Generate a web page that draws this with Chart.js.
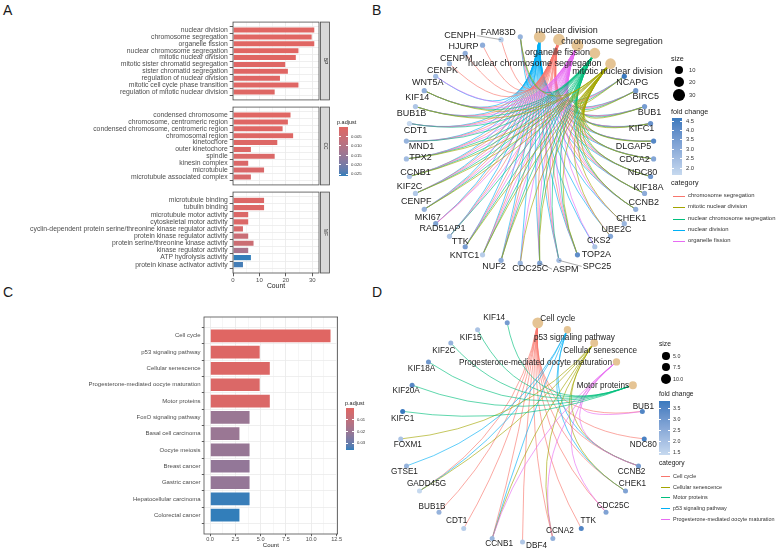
<!DOCTYPE html>
<html><head><meta charset="utf-8"><title>GO / KEGG enrichment</title>
<script src="https://cdn.jsdelivr.net/npm/chart.js@4.4.1/dist/chart.umd.min.js"></script>
<style>
html,body{margin:0;padding:0;background:#fff;}
#fig{position:relative;width:784px;height:557px;overflow:hidden;background:#fff;font-family:"Liberation Sans",Arial,Helvetica,sans-serif;}
#fig canvas{position:absolute;}
.tx{position:absolute;white-space:nowrap;}
</style></head><body><div id="fig"></div>
<script>
// ================= DATA =================
// Panel A (GO)
const bpTerms = ['nuclear division','chromosome segregation','organelle fission','nuclear chromosome segregation','mitotic nuclear division','mitotic sister chromatid segregation','sister chromatid segregation','regulation of nuclear division','mitotic cell cycle phase transition','regulation of mitotic nuclear division'];
const bpCount = [31,30,31,25,24,20,21,18,25,16];
const bpPadj  = [0.0001,0.0001,0.0001,0.0001,0.0002,0.0003,0.0003,0.0004,0.0004,0.0005];
const ccTerms = ['condensed chromosome','chromosome, centromeric region','condensed chromosome, centromeric region','chromosomal region','kinetochore','outer kinetochore','spindle','kinesin complex','microtubule','microtubule associated complex'];
const ccCount = [22,21,19,23,17,7,16,6,12,7];
const ccPadj  = [0.0002,0.0003,0.0004,0.0005,0.0008,0.0010,0.0012,0.0015,0.0018,0.0020];
const mfTerms = ['microtubule binding','tubulin binding','microtubule motor activity','cytoskeletal motor activity','cyclin-dependent protein serine/threonine kinase regulator activity','protein kinase regulator activity','protein serine/threonine kinase activity','kinase regulator activity','ATP hydrolysis activity','protein kinase activator activity'];
const mfCount = [12,12,6,6,4,6,8,6,7,4];
const mfPadj  = [0.0010,0.0011,0.0012,0.0013,0.0022,0.0055,0.0050,0.0120,0.0261,0.0250];
const facetNamesA = ['BP','CC','MF'];
const xTicksA = [0,5,10,15,20,25,30];
const xMajorA = [0,10,20,30];
const padjTicksA = [0.005,0.010,0.015,0.020,0.025];

// Panel C (KEGG)
const keggTerms = ['Cell cycle','p53 signaling pathway','Cellular senescence','Progesterone-mediated oocyte maturation','Motor proteins','FoxO signaling pathway','Basal cell carcinoma','Oocyte meiosis','Breast cancer','Gastric cancer','Hepatocellular carcinoma','Colorectal cancer'];
const keggCount = [12,5,6,5,6,4,3,4,4,4,4,3];
const keggPadj  = [0.0003,0.0012,0.0015,0.0018,0.0020,0.0205,0.0205,0.0210,0.0220,0.0215,0.0355,0.0360];
const xTicksC = [0,1.25,2.5,3.75,5,6.25,7.5,8.75,10,11.25,12.5];
const xMajorC = [0,2.5,5,7.5,10,12.5];
const padjTicksC = [0.01,0.02,0.03];

// Panel B (GO network)
const catsB = ['nuclear division','chromosome segregation','organelle fission','nuclear chromosome segregation','mitotic nuclear division'];
const genesB = ['NCAPG','BIRC5','BUB1','KIFC1','DLGAP5','CDCA2','NDC80','KIF18A','CCNB2','CHEK1','UBE2C','CKS2','TOP2A','SPC25','ASPM','CDC25C','NUF2','KNTC1','TTK','RAD51AP1','MKI67','CENPF','KIF2C','CCNB1','TPX2','MND1','CDT1','BUB1B','KIF14','WNT5A','CENPK','CENPM','HJURP','CENPH','FAM83D'];
const fcB = [4.66,3.6,3.5,3.82,4.2,3.2,3.6,3.0,2.9,2.7,3.2,2.3,4.0,2.5,3.3,2.7,3.0,2.0,3.5,2.2,3.3,2.8,2.1,2.2,2.5,2.8,1.64,2.2,2.9,2.5,2.5,3.0,3.0,2.0,2.8];
const membersB = [
  ['NCAPG','BIRC5','BUB1','KIFC1','DLGAP5','CDCA2','NDC80','KIF18A','CCNB2','CHEK1','UBE2C','CKS2','TOP2A','SPC25','ASPM','CDC25C','NUF2','KNTC1','TTK','RAD51AP1','MKI67','CENPF','KIF2C','CCNB1','TPX2','MND1','CDT1','BUB1B','KIF14','WNT5A','FAM83D'],
  ['NCAPG','BIRC5','BUB1','KIFC1','DLGAP5','CDCA2','NDC80','KIF18A','CCNB2','TOP2A','SPC25','ASPM','NUF2','KNTC1','TTK','RAD51AP1','MKI67','CENPF','KIF2C','CCNB1','TPX2','MND1','CDT1','BUB1B','KIF14','CENPK','CENPM','HJURP','CENPH','FAM83D'],
  ['NCAPG','BIRC5','BUB1','KIFC1','DLGAP5','CDCA2','NDC80','KIF18A','CCNB2','CHEK1','UBE2C','CKS2','TOP2A','SPC25','ASPM','CDC25C','NUF2','KNTC1','TTK','RAD51AP1','MKI67','CENPF','KIF2C','CCNB1','TPX2','MND1','CDT1','BUB1B','KIF14','WNT5A','FAM83D'],
  ['NCAPG','BIRC5','BUB1','KIFC1','DLGAP5','CDCA2','NDC80','KIF18A','CCNB2','TOP2A','SPC25','ASPM','NUF2','KNTC1','TTK','RAD51AP1','CENPF','KIF2C','CCNB1','TPX2','MND1','CDT1','BUB1B','KIF14','FAM83D'],
  ['NCAPG','BIRC5','BUB1','KIFC1','DLGAP5','CDCA2','NDC80','KIF18A','CCNB2','CHEK1','UBE2C','TOP2A','ASPM','CDC25C','NUF2','KNTC1','TTK','CENPF','KIF2C','CCNB1','TPX2','BUB1B','KIF14','FAM83D']
];
const sizeLegendB = [10,20,30];
const fcTicksB = [2.0,2.5,3.0,3.5,4.0,4.5];

// Panel D (KEGG network)
const catsD = ['Cell cycle','p53 signaling pathway','Cellular senescence','Progesterone-mediated oocyte maturation','Motor proteins'];
const genesD = ['BUB1','NDC80','CCNB2','CHEK1','CDC25C','TTK','CCNA2','DBF4','CCNB1','CDT1','BUB1B','GADD45G','GTSE1','FOXM1','KIFC1','KIF20A','KIF18A','KIF2C','KIF15','KIF14'];
const fcD = [3.5,3.6,2.9,2.7,2.7,3.5,2.4,1.8,2.2,1.64,2.3,1.36,2.3,1.9,3.82,3.4,3.0,2.3,1.9,2.9];
const membersD = [
  ['BUB1','NDC80','CCNB2','CHEK1','CDC25C','TTK','CCNA2','DBF4','CCNB1','CDT1','BUB1B','GADD45G'],
  ['CCNB2','CHEK1','CCNB1','GADD45G','GTSE1'],
  ['CCNB2','CHEK1','CCNA2','CCNB1','GADD45G','FOXM1'],
  ['BUB1','CCNB2','CDC25C','CCNA2','CCNB1'],
  ['KIFC1','KIF20A','KIF18A','KIF2C','KIF15','KIF14']
];
const sizeLegendD = [5.0,7.5,10.0];
const fcTicksD = [1.5,2.0,2.5,3.0,3.5];

// ================= STYLE / LAYOUT =================
const FONT = '"Liberation Sans", Arial, Helvetica, sans-serif';
const P_LOW = '#e06663', P_HIGH = '#327eba';
const FC_LOW = '#C6D9EF', FC_HIGH = '#3979BE';
const CAT_NODE = '#E5C494';
const HUE5 = ['#F8766D','#A3A500','#00BF7D','#00B0F6','#E76BF3'];
// label nudges (px) for repelled node labels: categories first, then genes
const nudgeB = [[27,-6],[53,2],[-20,7],[-60,10],[7,8],
  [8,6],[10,6],[5,6],[-9,5],[-20,5],[-19,1],[-8,-4],[4,-6],[8,-7],[7,-5],[6,-7],[4,-6],[19,0],[38,6],[26,6],[10,5],[-7,6],[-18,1],[-5,-5],[-7,-8],[-8,-6],[-8,-8],[-6,-7],[6,-4],[14,-1],[15,5],[6,7],[-4,7],[-7,7],[-8,6],[-7,7],[-9,5],[-19,1],[-41,-4],[-22,-4]];
const nudgeD = [[20,-4],[7,8],[6,8],[-81,1],[-30,1],
  [1,-5],[-1,6],[-7,6],[7,-7],[7,-6],[7,-8],[7,-8],[14,4],[7,5],[-7,-8],[-7,-5],[7,-7],[-2,6],[7,6],[0,7],[-6,6],[-7,7],[-7,8],[-7,8],[-13,-5]];

// ================= COLOR UTILS (Lab interpolation like ggplot) =================
function hex2rgb(h){h=h.replace('#','');return [0,2,4].map(i=>parseInt(h.substr(i,2),16));}
function s2l(c){c/=255;return c<=0.04045?c/12.92:Math.pow((c+0.055)/1.055,2.4);}
function l2s(c){c=c<=0.0031308?12.92*c:1.055*Math.pow(c,1/2.4)-0.055;return Math.round(Math.max(0,Math.min(1,c))*255);}
function rgb2lab(rgb){const [r,g,b]=rgb.map(s2l);const X=(0.4124*r+0.3576*g+0.1805*b)/0.95047,Y=0.2126*r+0.7152*g+0.0722*b,Z=(0.0193*r+0.1192*g+0.9505*b)/1.08883;const f=t=>t>0.008856?Math.cbrt(t):7.787*t+16/116;const fx=f(X),fy=f(Y),fz=f(Z);return [116*fy-16,500*(fx-fy),200*(fy-fz)];}
function lab2rgb([L,a,b]){const fy=(L+16)/116,fx=fy+a/500,fz=fy-b/200;const fi=t=>t*t*t>0.008856?t*t*t:(t-16/116)/7.787;const X=fi(fx)*0.95047,Y=fi(fy),Z=fi(fz)*1.08883;return [3.2406*X-1.5372*Y-0.4986*Z,-0.9689*X+1.8758*Y+0.0415*Z,0.0557*X-0.2040*Y+1.0570*Z].map(l2s);}
function mix(h1,h2,t){t=Math.max(0,Math.min(1,t));const A=rgb2lab(hex2rgb(h1)),B=rgb2lab(hex2rgb(h2));const c=lab2rgb(A.map((v,i)=>v+(B[i]-v)*t));return 'rgb('+c.join(',')+')';}

// ================= HELPERS =================
const fig = document.getElementById('fig');
Chart.defaults.font.family = FONT;
function mkCanvas(l,t,w,h){const c=document.createElement('canvas');c.width=w;c.height=h;c.style.left=l+'px';c.style.top=t+'px';c.style.width=w+'px';c.style.height=h+'px';fig.appendChild(c);return c;}
function txt(s,x,cy,size,color,align){const d=document.createElement('div');d.className='tx';d.textContent=s;d.style.fontSize=size+'px';d.style.lineHeight=(size*1.2)+'px';d.style.top=(cy-size*0.6)+'px';d.style.color=color||'#1a1a1a';if(align==='center'){d.style.left=x+'px';d.style.transform='translateX(-50%)';}else{d.style.left=x+'px';}fig.appendChild(d);return d;}
function box(l,t,w,h,css){const d=document.createElement('div');d.style.cssText='position:absolute;left:'+l+'px;top:'+t+'px;width:'+w+'px;height:'+h+'px;'+(css||'');fig.appendChild(d);return d;}
function colorbar(l,t,w,h,cTop,cBot,tickYs){const stops=[];for(let i=0;i<=12;i++)stops.push(mix(cTop,cBot,i/12)+' '+(i*100/12).toFixed(2)+'%');box(l,t,w,h,'background:linear-gradient(to bottom,'+stops.join(',')+');');tickYs.forEach(y=>{box(l,y-0.4,w/5,0.8,'background:#fff;');box(l+w-w/5,y-0.4,w/5,0.8,'background:#fff;');});}

// ================= PANEL LETTERS =================
[['A',3,3],['B',372,3],['C',3,285],['D',372,285]].forEach(([s,x,y])=>{const d=document.createElement('div');d.className='tx';d.textContent=s;d.style.cssText+='left:'+x+'px;top:'+y+'px;font-size:14px;line-height:14px;color:#1a1a1a;';fig.appendChild(d);});

// ================= BAR CHARTS =================
const framePlugin = {id:'frame', afterDraw(chart,args,o){const a=chart.chartArea,ctx=chart.ctx;ctx.save();ctx.strokeStyle='#4d4d4d';ctx.lineWidth=0.8;ctx.strokeRect(a.left,a.top,a.right-a.left,a.bottom-a.top);
  if(o.strip){const x0=a.right+1.5,w=9;ctx.fillStyle='#d9d9d9';ctx.fillRect(x0,a.top,w,a.bottom-a.top);ctx.strokeRect(x0,a.top,w,a.bottom-a.top);ctx.translate(x0+w/2,(a.top+a.bottom)/2);ctx.rotate(Math.PI/2);ctx.fillStyle='#1a1a1a';ctx.font='4.8px '+FONT;ctx.textAlign='center';ctx.textBaseline='middle';ctx.fillText(o.strip,0,0);}
  ctx.restore();}};

function barChart(canvas,cfg){
  const isMajor = v => cfg.xMajor.some(m=>Math.abs(m-v)<1e-9);
  return new Chart(canvas,{
    type:'bar',
    data:{datasets:[{data:cfg.values.map((v,i)=>({x:v,y:i+1})),backgroundColor:cfg.colors,borderColor:'rgba(255,255,255,0.55)',borderWidth:cfg.barBorder,barPercentage:0.9,categoryPercentage:1}]},
    options:{indexAxis:'y',animation:false,responsive:false,events:[],
      layout:{padding:{top:cfg.padTop,right:cfg.padRight,bottom:cfg.padBottom,left:0}},
      plugins:{legend:{display:false},tooltip:{enabled:false},frame:{strip:cfg.strip}},
      scales:{
        y:{type:'linear',reverse:true,min:0.4,max:cfg.values.length+0.6,
          afterBuildTicks:s=>{s.ticks=cfg.labels.map((_,i)=>({value:i+1}));},
          afterFit:s=>{s.width=cfg.yWidth;},
          ticks:{autoSkip:false,padding:cfg.yPad,color:'#4d4d4d',font:{size:cfg.yFont},callback:v=>cfg.labels[Math.round(v)-1]},
          grid:{color:'#ebebeb',lineWidth:0.8,tickLength:cfg.tickLen,tickColor:'#333',tickWidth:0.8},
          border:{display:false}},
        x:{type:'linear',min:cfg.xMin,max:cfg.xMax,
          afterBuildTicks:s=>{s.ticks=cfg.xTicks.map(v=>({value:v}));},
          afterFit:s=>{s.height=cfg.axisH;},
          ticks:{display:cfg.showX,autoSkip:false,maxRotation:0,padding:cfg.xPad,color:'#4d4d4d',font:{size:cfg.xFont},callback:v=>isMajor(v)?cfg.xFmt(v):''},
          grid:{color:'#ebebeb',lineWidth:c=>(c.tick&&isMajor(c.tick.value))?0.9:0.45,drawTicks:cfg.showX,tickLength:cfg.tickLen,
                tickColor:c=>(c.tick&&isMajor(c.tick.value))?'#333':'rgba(0,0,0,0)',tickWidth:0.8},
          border:{display:false},
          title:{display:cfg.showX,text:'Count',color:'#1a1a1a',font:{size:cfg.titleFont},padding:{top:0,bottom:cfg.titlePadB}}}
      }},
    plugins:[framePlugin]});
}

// Panel A
const allPadjA = bpPadj.concat(ccPadj, mfPadj);
const pminA = Math.min(...allPadjA), pmaxA = Math.max(...allPadjA);
const colA = p => mix(P_LOW,P_HIGH,(p-pminA)/(pmaxA-pminA));
const xMaxA = Math.max(...bpCount,...ccCount,...mfCount)*1.05;
const facetA = [
  {terms:bpTerms,count:bpCount,padj:bpPadj,top:16,h:90,padTop:5,padBottom:4,axisH:0,showX:false},
  {terms:ccTerms,count:ccCount,padj:ccPadj,top:101,h:90,padTop:5,padBottom:3,axisH:0,showX:false},
  {terms:mfTerms,count:mfCount,padj:mfPadj,top:186,h:106,padTop:5,padBottom:0,axisH:19,showX:true}
];
facetA.forEach((f,k)=>{
  const c = mkCanvas(0,f.top,334,f.h);
  barChart(c,{labels:f.terms,values:f.count,colors:f.padj.map(colA),strip:facetNamesA[k],
    padTop:f.padTop,padBottom:f.padBottom,padRight:15,axisH:f.axisH,showX:f.showX,
    yWidth:233,yPad:2,yFont:6.8,tickLen:3.3,barBorder:0.6,
    xMin:0,xMax:xMaxA,xTicks:xTicksA,xMajor:xMajorA,xFmt:v=>String(v),xPad:0.5,xFont:6,titleFont:6.8,titlePadB:1.9});
});
// legend A
txt('p.adjust',337,122,5.5,'#1a1a1a');
(function(){const t=127,h=49;const ys=padjTicksA.map(v=>t+(v-pminA)/(pmaxA-pminA)*h);colorbar(339,t,9,h,P_LOW,P_HIGH,ys);padjTicksA.forEach((v,i)=>txt(v.toFixed(3),351,ys[i],4.3,'#333'));})();

// Panel C
const pminC = Math.min(...keggPadj), pmaxC = Math.max(...keggPadj);
const colC = p => mix(P_LOW,P_HIGH,(p-pminC)/(pmaxC-pminC));
const xMaxC = Math.max(...keggCount)*1.05, xMinC = -Math.max(...keggCount)*0.05;
barChart(mkCanvas(0,310,372,247),{labels:keggTerms,values:keggCount,colors:keggPadj.map(colC),strip:null,
  padTop:7,padBottom:0,padRight:34.4,axisH:23,showX:true,yWidth:204,yPad:1.2,yFont:6,tickLen:2.2,barBorder:1,
  xMin:xMinC,xMax:xMaxC,xTicks:xTicksC,xMajor:xMajorC,xFmt:v=>v.toFixed(1),xPad:0.3,xFont:5.6,titleFont:6,titlePadB:7.7});
txt('p.adjust',345,403,5.5,'#1a1a1a');
(function(){const t=408,h=42;const ys=padjTicksC.map(v=>t+(v-pminC)/(pmaxC-pminC)*h);colorbar(346,t,8,h,P_LOW,P_HIGH,ys);padjTicksC.forEach((v,i)=>txt(v.toFixed(2),357,ys[i],4.2,'#333'));})();

// ================= NETWORKS =================
const edgePlugin = {id:'edges', beforeDatasetsDraw(chart,args,o){const xs=chart.scales.x,ys=chart.scales.y,ctx=chart.ctx;ctx.save();ctx.lineWidth=o.width;ctx.globalAlpha=o.alpha;
  o.edges.forEach(e=>{const a=o.pts[e.from],b=o.pts[e.to];const mx=(a.x+b.x)/2*(1-o.strength),my=(a.y+b.y)/2*(1-o.strength);
    ctx.strokeStyle=e.color;ctx.beginPath();ctx.moveTo(xs.getPixelForValue(a.x),ys.getPixelForValue(a.y));
    ctx.quadraticCurveTo(xs.getPixelForValue(mx),ys.getPixelForValue(my),xs.getPixelForValue(b.x),ys.getPixelForValue(b.y));ctx.stroke();});
  ctx.restore();}};
const labelPlugin = {id:'nodelabels', afterDatasetsDraw(chart,args,o){const ctx=chart.ctx,xs=chart.scales.x,ys=chart.scales.y;ctx.save();ctx.font=o.size+'px '+FONT;ctx.textAlign='center';ctx.textBaseline='middle';
  o.names.forEach((n,i)=>{const px=xs.getPixelForValue(o.pts[i].x),py=ys.getPixelForValue(o.pts[i].y);const dx=o.nudge[i][0],dy=o.nudge[i][1];const lx=px+dx,ly=py+dy;const hw=ctx.measureText(n).width/2;
    if(Math.abs(dx)>hw+5){const ex=dx>0?lx-hw-1:lx+hw+1;ctx.strokeStyle='#555';ctx.lineWidth=0.5;ctx.beginPath();ctx.moveTo(px,py);ctx.lineTo(ex,ly);ctx.stroke();}
    ctx.fillStyle=o.color;ctx.fillText(n,lx,ly);});
  ctx.restore();}};

function lcSort(arr){return arr.slice().sort((a,b)=>{const A=a.toLowerCase(),B=b.toLowerCase();return A<B?-1:A>B?1:0;});}

function network(canvas,cfg){
  const names = cfg.cats.concat(cfg.genes);
  const N = names.length;
  const pts = names.map((n,i)=>{const ang=(i+0.5)*2*Math.PI/N;return {x:Math.sin(ang),y:Math.cos(ang)};});
  const sizes = cfg.members.map(m=>m.length);
  const fmin=Math.min(...cfg.fc), fmax=Math.max(...cfg.fc);
  const radii = names.map((n,i)=> i<cfg.cats.length ? cfg.rad(sizes[i]) : cfg.geneR);
  const colors = names.map((n,i)=> i<cfg.cats.length ? CAT_NODE : mix(FC_LOW,FC_HIGH,(cfg.fc[i-cfg.cats.length]-fmin)/(fmax-fmin)));
  const sorted = lcSort(cfg.cats);
  const edges=[];
  cfg.members.forEach((m,ci)=>{const col=HUE5[sorted.indexOf(cfg.cats[ci])];m.forEach(g=>edges.push({from:ci,to:cfg.cats.length+cfg.genes.indexOf(g),color:col}));});
  new Chart(canvas,{type:'scatter',
    data:{datasets:[{data:pts,pointRadius:radii,pointBackgroundColor:colors,pointBorderWidth:0,pointHoverRadius:radii,clip:false}]},
    options:{animation:false,responsive:false,events:[],layout:{padding:cfg.pad},
      plugins:{legend:{display:false},tooltip:{enabled:false},
        edges:{edges,pts,strength:0.9,width:0.7,alpha:0.9},
        nodelabels:{names,pts,nudge:cfg.nudge,size:cfg.labelSize,color:'#222'}},
      scales:{x:{type:'linear',min:-1,max:1,display:false},y:{type:'linear',min:-1,max:1,display:false}}},
    plugins:[edgePlugin,labelPlugin]});
  return {sorted,fmin,fmax};
}
function netLegend(L,info,cfg){
  txt('size',L.x,L.sizeTitleY,L.titleFont,'#1a1a1a');
  cfg.sizeLegend.forEach((s,i)=>{const r=cfg.rad(s);box(L.circX-r,L.sizeYs[i]-r,2*r,2*r,'background:#000;border-radius:50%;');txt(s.toFixed(L.sizeDec),L.labX,L.sizeYs[i],L.labFont,'#333');});
  txt('fold change',L.x,L.fcTitleY,L.titleFont,'#1a1a1a');
  const ys=cfg.fcTicks.map(v=>L.barT+(info.fmax-v)/(info.fmax-info.fmin)*L.barH);
  colorbar(L.barX,L.barT,L.barW,L.barH,FC_HIGH,FC_LOW,ys);
  cfg.fcTicks.forEach((v,i)=>txt(v.toFixed(1),L.barLabX,ys[i],L.labFont,'#333'));
  txt('category',L.x,L.catTitleY,L.titleFont,'#1a1a1a');
  info.sorted.forEach((c,i)=>{const y=L.catYs[i];box(L.lineX,y-0.5,L.lineW,1,'background:'+HUE5[i]+';');txt(c,L.catLabX,y,L.catFont,'#333');});
}

// Panel B
const radB = s => 1.31 + 0.82*Math.sqrt(s);
const cfgB = {cats:catsB,genes:genesB,fc:fcB,members:membersB,nudge:nudgeB,rad:radB,geneR:2.6,labelSize:9,
  pad:{left:34,right:28,top:18.5,bottom:16.5},sizeLegend:sizeLegendB,fcTicks:fcTicksB};
const infoB = network(mkCanvas(372,18,310,262),cfgB);
netLegend({x:671,sizeTitleY:59,titleFont:7.2,circX:679,sizeYs:[70,82,95],labX:689,labFont:5.8,sizeDec:0,
  fcTitleY:112,barX:672,barT:118,barW:10,barH:57,barLabX:686,catTitleY:183,catYs:[196,207,219,230,241],lineX:673,lineW:12,catLabX:688,catFont:5.9},infoB,cfgB);

// Panel D
const radD = s => 0.39 + 1.46*Math.sqrt(s);
const cfgD = {cats:catsD,genes:genesD,fc:fcD,members:membersD,nudge:nudgeD,rad:radD,geneR:2.5,labelSize:8.2,
  pad:{left:28.5,right:27.5,top:22,bottom:15},sizeLegend:sizeLegendD,fcTicks:fcTicksD};
const infoD = network(mkCanvas(372,300,300,257),cfgD);
netLegend({x:659,sizeTitleY:344,titleFont:6.7,circX:666,sizeYs:[356,367,379],labX:673,labFont:5.3,sizeDec:1,
  fcTitleY:394,barX:659,barT:401,barW:11,barH:54,barLabX:673,catTitleY:463,catYs:[476,487,497,508,519],lineX:661,lineW:9,catLabX:673,catFont:5.45},infoD,cfgD);
</script>
</body></html>
